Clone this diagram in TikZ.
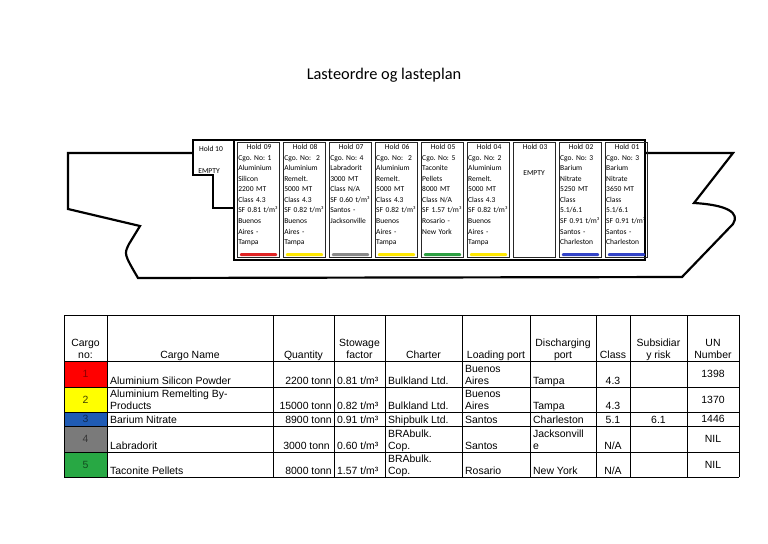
\documentclass[tikz,border=0pt]{standalone}
\usepackage{fontspec}
\setmainfont{Carlito}
\newfontfamily\tablefont{Liberation Sans}
\usetikzlibrary{positioning}
\frenchspacing
\definecolor{cgored}{HTML}{FF0000}
\definecolor{cgoyellow}{HTML}{FFFF00}
\definecolor{cgoblue}{HTML}{1F5BB4}
\definecolor{cgogrey}{HTML}{7A7A7A}
\definecolor{cgogreen}{HTML}{28A844}
\definecolor{barred}{HTML}{E02424}
\definecolor{baryellow}{HTML}{FFE800}
\definecolor{bargrey}{HTML}{8A8A8A}
\definecolor{bargreen}{HTML}{2EA043}
\definecolor{barblue}{HTML}{3344C8}
\tikzset{
  hull/.style={line width=2.4pt, line join=miter},
  hold/.style={draw=black!85, line width=0.8pt, minimum width=46.5pt, minimum height=127pt, inner sep=0pt},
  holdtxt/.style={anchor=north west, align=left, inner xsep=1.2pt, inner ysep=2.6pt, text width=46pt, font=\fontsize{8.3}{11.6}\selectfont},
  bar/.style={fill=#1, minimum width=41pt, minimum height=3.2pt, inner sep=0pt, rounded corners=1.2pt},
  cell/.style={font=\tablefont\fontsize{11.5}{13.2}\selectfont, inner sep=0pt},
  grid/.style={line width=0.8pt}
}

\begin{document}
\begin{tikzpicture}[x=0.38672mm, y=-0.38672mm]
  \useasboundingbox (0,0) rectangle (768,543);

  \node (title) at (384,75) {\fontsize{18}{21}\selectfont Lasteordre og lasteplan};

  % ship outline
  \draw[hull] (193,153) -- (68,153) -- (68,209) -- (140,226) -- (129,244)
    .. controls (124,254) .. (138,278) -- (682,277) -- (733,224)
    .. controls (740,213) and (728,205) .. (694,203) -- (733,153) -- (645,153);
  \draw[hull] (234,208) -- (213,208) -- (213,175) -- (193,175) -- (193,140) -- (234,140);
  \draw[hull] (234,140) rectangle (645,260);

  \node[font=\fontsize{8.3}{11.6}\selectfont] (t10) at (211,149) {Hold 10};
  \node[font=\fontsize{8.3}{11.6}\selectfont] (e10) at (209,171) {EMPTY};

  % holds
  \node[hold] (h09) at (258.5,200) {};
  \node[hold] (h08) [right=3.3pt of h09] {};
  \node[hold] (h07) [right=3.3pt of h08] {};
  \node[hold] (h06) [right=3.3pt of h07] {};
  \node[hold] (h05) [right=3.3pt of h06] {};
  \node[hold] (h04) [right=3.3pt of h05] {};
  \node[hold] (h03) [right=3.3pt of h04] {};
  \node[hold] (h02) [right=3.3pt of h03] {};
  \node[hold] (h01) [right=3.3pt of h02] {};

  \node[holdtxt] (t09) at (h09.north west) {\hfill Hold 09\hfill\null\\Cgo. No: 1\\Aluminium\\Silicon\\2200 MT\\Class 4.3\\SF 0.81 t/m³\\Buenos\\Aires -\\Tampa};
  \node[holdtxt] (t08) at (h08.north west) {\hfill Hold 08\hfill\null\\Cgo. No:\ \ 2\\Aluminium\\Remelt.\\5000 MT\\Class 4.3\\SF 0.82 t/m³\\Buenos\\Aires -\\Tampa};
  \node[holdtxt] (t07) at (h07.north west) {\hfill Hold 07\hfill\null\\Cgo. No: 4\\Labradorit\\3000 MT\\Class N/A\\SF 0.60 t/m³\\Santos -\\Jacksonville};
  \node[holdtxt] (t06) at (h06.north west) {\hfill Hold 06\hfill\null\\Cgo. No:\ \ 2\\Aluminium\\Remelt.\\5000 MT\\Class 4.3\\SF 0.82 t/m³\\Buenos\\Aires -\\Tampa};
  \node[holdtxt] (t05) at (h05.north west) {\hfill Hold 05\hfill\null\\Cgo. No: 5\\Taconite\\Pellets\\8000 MT\\Class N/A\\SF 1.57 t/m³\\Rosario -\\New York};
  \node[holdtxt] (t04) at (h04.north west) {\hfill Hold 04\hfill\null\\Cgo. No: 2\\Aluminium\\Remelt.\\5000 MT\\Class 4.3\\SF 0.82 t/m³\\Buenos\\Aires -\\Tampa};
  \node[holdtxt] (t03) at (h03.north west) {\hfill Hold 03\hfill\null};
  \node[font=\fontsize{8.3}{11.6}\selectfont] (e03) at (534,173) {EMPTY};
  \node[holdtxt] (t02) at (h02.north west) {\hfill Hold 02\hfill\null\\Cgo. No: 3\\Barium\\Nitrate\\5250 MT\\Class\\5.1/6.1\\SF 0.91 t/m³\\Santos -\\Charleston};
  \node[holdtxt] (t01) at (h01.north west) {\hfill Hold 01\hfill\null\\Cgo. No: 3\\Barium\\Nitrate\\3650 MT\\Class\\5.1/6.1\\SF 0.91 t/m³\\Santos -\\Charleston};

  \node[bar=barred]    (b09) [above=2pt of h09.south] {};
  \node[bar=baryellow] (b08) [above=2pt of h08.south] {};
  \node[bar=bargrey]   (b07) [above=2pt of h07.south] {};
  \node[bar=baryellow] (b06) [above=2pt of h06.south] {};
  \node[bar=bargreen]  (b05) [above=2pt of h05.south] {};
  \node[bar=baryellow] (b04) [above=2pt of h04.south] {};
  \node[bar=barblue]   (b02) [above=2pt of h02.south] {};
  \node[bar=barblue]   (b01) [above=2pt of h01.south] {};

  % table
  \fill[cgored]    (64,361) rectangle (107,387);
  \fill[cgoyellow] (64,387) rectangle (107,412);
  \fill[cgoblue]   (64,412) rectangle (107,426);
  \fill[cgogrey]   (64,426) rectangle (107,452);
  \fill[cgogreen]  (64,452) rectangle (107,477);
  \foreach \x in {64,107,273,334,385,462,530,596,630,687,739}
    \draw[grid] (\x,315) -- (\x,477);
  \foreach \y in {315,361,387,412,426,452,477}
    \draw[grid] (64,\y) -- (739,\y);

  % header
  \node[cell, anchor=base, align=center] (hno)   at (85.5,358.5) {Cargo\\no:};
  \node[cell, anchor=base] (hname) at (190,358.5) {Cargo Name};
  \node[cell, anchor=base] (hqty)  at (303.5,358.5) {Quantity};
  \node[cell, anchor=base, align=center] (hsf) at (359.5,358.5) {Stowage\\factor};
  \node[cell, anchor=base] (hch)   at (423.5,358.5) {Charter};
  \node[cell, anchor=base] (hlp)   at (496,358.5) {Loading port};
  \node[cell, anchor=base, align=center] (hdp) at (563,358.5) {Discharging\\port};
  \node[cell, anchor=base] (hcl)   at (613,358.5) {Class};
  \node[cell, anchor=base, align=center] (hsr) at (658.5,358.5) {Subsidiar\\y risk};
  \node[cell, anchor=base, align=center] (hun) at (713,358.5) {UN\\Number};

  % cargo numbers
  \node[cell, text=cgored!55!black]    (no1) at (85.5,374)   {1};
  \node[cell, text=cgoyellow!25!black] (no2) at (85.5,399.5) {2};
  \node[cell, text=cgoblue!45!black]   (no3) at (85.5,419)   {3};
  \node[cell, text=cgogrey!45!black]   (no4) at (85.5,439)   {4};
  \node[cell, text=cgogreen!45!black]  (no5) at (85.5,464.5) {5};

  % row 1
  \node[cell, anchor=base west] (n1) at (110,384.5) {Aluminium Silicon Powder};
  \node[cell, anchor=base east] (q1) at (332,384.5) {2200 tonn};
  \node[cell, anchor=base west] (s1) at (337,384.5) {0.81 t/m³};
  \node[cell, anchor=base west] (c1) at (388,384.5) {Bulkland Ltd.};
  \node[cell, anchor=base west, align=left] (l1) at (465,384.5) {Buenos\\Aires};
  \node[cell, anchor=base west] (d1) at (533,384.5) {Tampa};
  \node[cell, anchor=base] (k1) at (613,384.5) {4.3};
  \node[cell] (u1) at (713,374) {1398};
  % row 2
  \node[cell, anchor=base west, align=left] (n2) at (110,409.5) {Aluminium Remelting By-\\Products};
  \node[cell, anchor=base east] (q2) at (332,409.5) {15000 tonn};
  \node[cell, anchor=base west] (s2) at (337,409.5) {0.82 t/m³};
  \node[cell, anchor=base west] (c2) at (388,409.5) {Bulkland Ltd.};
  \node[cell, anchor=base west, align=left] (l2) at (465,409.5) {Buenos\\Aires};
  \node[cell, anchor=base west] (d2) at (533,409.5) {Tampa};
  \node[cell, anchor=base] (k2) at (613,409.5) {4.3};
  \node[cell] (u2) at (713,399.5) {1370};
  % row 3
  \node[cell, anchor=base west] (n3) at (110,423.5) {Barium Nitrate};
  \node[cell, anchor=base east] (q3) at (332,423.5) {8900 tonn};
  \node[cell, anchor=base west] (s3) at (337,423.5) {0.91 t/m³};
  \node[cell, anchor=base west] (c3) at (388,423.5) {Shipbulk Ltd.};
  \node[cell, anchor=base west] (l3) at (465,423.5) {Santos};
  \node[cell, anchor=base west] (d3) at (533,423.5) {Charleston};
  \node[cell, anchor=base] (k3) at (613,423.5) {5.1};
  \node[cell, anchor=base] (r3) at (658.5,423.5) {6.1};
  \node[cell] (u3) at (713,419) {1446};
  % row 4
  \node[cell, anchor=base west] (n4) at (110,449.5) {Labradorit};
  \node[cell, anchor=base east] (q4) at (330,449.5) {3000 tonn};
  \node[cell, anchor=base west] (s4) at (337,449.5) {0.60 t/m³};
  \node[cell, anchor=base west, align=left] (c4) at (388,449.5) {BRAbulk.\\Cop.};
  \node[cell, anchor=base west] (l4) at (465,449.5) {Santos};
  \node[cell, anchor=base west, align=left] (d4) at (533,449.5) {Jacksonvill\\e};
  \node[cell, anchor=base] (k4) at (613,449.5) {N/A};
  \node[cell] (u4) at (713,439) {NIL};
  % row 5
  \node[cell, anchor=base west] (n5) at (110,474.5) {Taconite Pellets};
  \node[cell, anchor=base east] (q5) at (332,474.5) {8000 tonn};
  \node[cell, anchor=base west] (s5) at (337,474.5) {1.57 t/m³};
  \node[cell, anchor=base west, align=left] (c5) at (388,474.5) {BRAbulk.\\Cop.};
  \node[cell, anchor=base west] (l5) at (465,474.5) {Rosario};
  \node[cell, anchor=base west] (d5) at (533,474.5) {New York};
  \node[cell, anchor=base] (k5) at (613,474.5) {N/A};
  \node[cell] (u5) at (713,464.5) {NIL};
\end{tikzpicture}
\end{document}
